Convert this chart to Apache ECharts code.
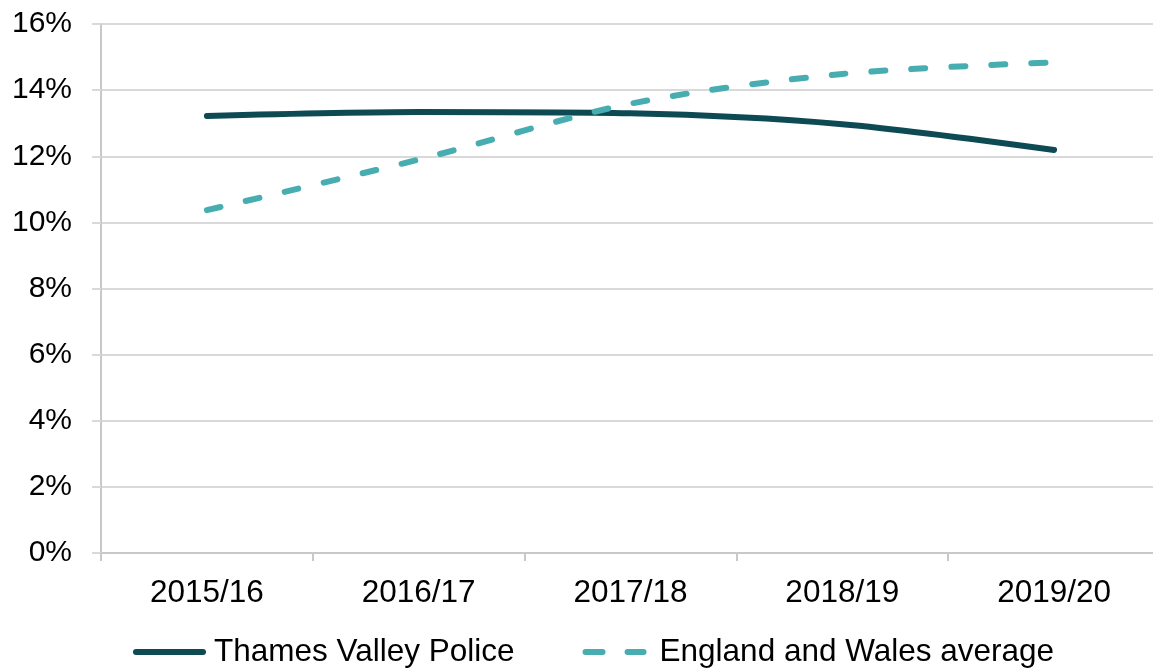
<!DOCTYPE html>
<html>
<head>
<meta charset="utf-8">
<script src="https://cdn.jsdelivr.net/npm/echarts@6/dist/echarts.min.js"></script>
<style>
  html, body { margin: 0; padding: 0; background: #ffffff; overflow: hidden; }
  #chart { width: 1153px; height: 669px; }
</style>
</head>
<body>
<div id="chart"></div>
<script>
// Financial years on the category axis
const years = ['2015/16', '2016/17', '2017/18', '2018/19', '2019/20'];
// Percentage values per year
const thamesValley = [13.22, 13.34, 13.30, 12.97, 12.19];
const englandWales = [10.37, 11.90, 13.59, 14.49, 14.84];
// Value-axis settings (percent)
const yMin = 0;
const yMax = 16;
const yStep = 2;

const FONT = '"Liberation Sans", Arial, Helvetica, sans-serif';
const DARK = '#0e4a54';
const TEAL = '#47adb1';

// Legend keys: a solid rounded bar and two rounded dashes, both in a 73x6 box
const solidKey = 'path://M3,0 L70,0 A3,3 0 0 1 70,6 L3,6 A3,3 0 0 1 3,0 Z';
const dashedKey = 'path://M0,0 M73,6 ' +
  'M7,0 L24,0 A3,3 0 0 1 24,6 L7,6 A3,3 0 0 1 7,0 Z ' +
  'M49,0 L65,0 A3,3 0 0 1 65,6 L49,6 A3,3 0 0 1 49,0 Z';

const chart = echarts.init(document.getElementById('chart'), null, { renderer: 'canvas' });

chart.setOption({
  animation: false,
  backgroundColor: '#ffffff',
  textStyle: { fontFamily: FONT },
  grid: { left: 101, top: 24, width: 1059, height: 529, containLabel: false, outerBoundsMode: 'none' },
  legend: {
    left: 133,
    top: 636,
    padding: 0,
    itemWidth: 73,
    itemHeight: 6,
    itemGap: 64,
    textStyle: { fontFamily: FONT, fontSize: 31.5, color: '#000000', padding: [0, 0, 0, 3] },
    data: [
      { name: 'Thames Valley Police', icon: solidKey, itemStyle: { color: DARK, borderWidth: 0 } },
      { name: 'England and Wales average', icon: dashedKey, itemStyle: { color: TEAL, borderWidth: 0 } }
    ]
  },
  xAxis: {
    type: 'category',
    data: years,
    boundaryGap: true,
    axisLine: { show: true, lineStyle: { color: '#c8c8c8', width: 2 } },
    axisTick: { show: true, length: 8, lineStyle: { color: '#c8c8c8', width: 2 } },
    axisLabel: { fontFamily: FONT, fontSize: 31.5, color: '#000000', margin: 24 },
    splitLine: { show: false }
  },
  yAxis: {
    type: 'value',
    min: yMin,
    max: yMax,
    interval: yStep,
    axisLine: { show: true, lineStyle: { color: '#c8c8c8', width: 2 } },
    axisTick: { show: true, length: 9, lineStyle: { color: '#d9d9d9', width: 2 } },
    axisLabel: { fontFamily: FONT, fontSize: 30, color: '#000000', margin: 29, padding: [4, 0, 0, 0], formatter: '{value}%' },
    splitLine: { show: true, lineStyle: { color: '#d9d9d9', width: 2 } }
  },
  series: [
    {
      name: 'Thames Valley Police',
      type: 'line',
      data: thamesValley,
      smooth: 0.3,
      symbol: 'none',
      color: DARK,
      lineStyle: { color: DARK, width: 6, cap: 'round', join: 'round' },
      z: 3
    },
    {
      name: 'England and Wales average',
      type: 'line',
      data: englandWales,
      smooth: 0.3,
      symbol: 'none',
      color: TEAL,
      lineStyle: { color: TEAL, width: 6, type: [14, 26], cap: 'round', join: 'round' },
      z: 4
    }
  ]
});
</script>
</body>
</html>
